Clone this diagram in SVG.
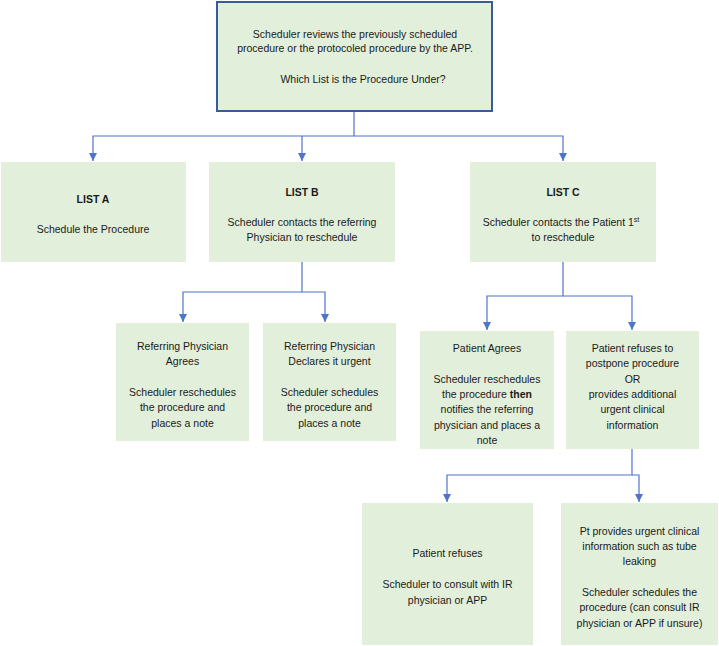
<svg xmlns="http://www.w3.org/2000/svg" width="719" height="646" viewBox="0 0 719 646">
<defs>
<style>
.box{fill:#e2efda;stroke:none}
.top{fill:#e2efda;stroke:#3a5b99;stroke-width:2}
text{font-family:"Liberation Sans",Arial,sans-serif;font-size:10.5px;fill:#1a1a1a;text-anchor:middle}
.b{font-weight:bold}
.c{fill:none;stroke:#4f75c9;stroke-width:1.2}
</style>
<marker id="ah" markerUnits="userSpaceOnUse" markerWidth="8" markerHeight="8" viewBox="0 0 8 8" refX="8" refY="4" orient="auto">
<path d="M0,0 L8,4 L0,8 Z" fill="#4f75c9"/>
</marker>
</defs>
<rect width="719" height="646" fill="#ffffff"/>
<g id="connectors">
<path class="c" d="M354,111 V136 H93 V161" marker-end="url(#ah)"/>
<path class="c" d="M302,136 V161" marker-end="url(#ah)"/>
<path class="c" d="M354,136 H563 V161" marker-end="url(#ah)"/>
<path class="c" d="M302,262 V292 H183 V322" marker-end="url(#ah)"/>
<path class="c" d="M302,292 H325 V322" marker-end="url(#ah)"/>
<path class="c" d="M563,262 V296 H487 V330" marker-end="url(#ah)"/>
<path class="c" d="M563,296 H632 V330" marker-end="url(#ah)"/>
<path class="c" d="M632,449 V475 H447 V502" marker-end="url(#ah)"/>
<path class="c" d="M632,475 H639 V502" marker-end="url(#ah)"/>
</g>
<g id="start">
<rect class="top" x="217" y="2" width="275" height="109"/>
<text x="355" y="38">Scheduler reviews the previously scheduled</text>
<text x="355" y="52">procedure or the protocoled procedure by the APP.</text>
<text x="363" y="83">Which List is the Procedure Under?</text>
</g>
<g id="listA">
<rect class="box" x="1" y="162" width="185" height="100"/>
<text class="b" x="93" y="203">LIST A</text>
<text x="93" y="233">Schedule the Procedure</text>
</g>
<g id="listB">
<rect class="box" x="209" y="162" width="186" height="100"/>
<text class="b" x="302" y="196">LIST B</text>
<text x="302" y="226">Scheduler contacts the referring</text>
<text x="302" y="241">Physician to reschedule</text>
</g>
<g id="listC">
<rect class="box" x="470" y="162" width="186" height="100"/>
<text class="b" x="563" y="196">LIST C</text>
<text x="561" y="226">Scheduler contacts the Patient 1<tspan font-size="7" dy="-4">st</tspan></text>
<text x="563" y="241">to reschedule</text>
</g>
<g id="refAgrees">
<rect class="box" x="116" y="323" width="133" height="118"/>
<text x="182.5" y="350">Referring Physician</text>
<text x="182.5" y="365">Agrees</text>
<text x="182.5" y="396">Scheduler reschedules</text>
<text x="182.5" y="411">the procedure and</text>
<text x="182.5" y="427">places a note</text>
</g>
<g id="refUrgent">
<rect class="box" x="263" y="323" width="133" height="118"/>
<text x="329.5" y="350">Referring Physician</text>
<text x="329.5" y="365">Declares it urgent</text>
<text x="329.5" y="396">Scheduler schedules</text>
<text x="329.5" y="411">the procedure and</text>
<text x="329.5" y="427">places a note</text>
</g>
<g id="patientAgrees">
<rect class="box" x="420" y="331" width="134" height="118"/>
<text x="487" y="352">Patient Agrees</text>
<text x="487" y="383">Scheduler reschedules</text>
<text x="487" y="398">the procedure <tspan class="b">then</tspan></text>
<text x="487" y="413">notifies the referring</text>
<text x="487" y="429">physician and places a</text>
<text x="487" y="444">note</text>
</g>
<g id="patientRefusesPostpone">
<rect class="box" x="566" y="331" width="133" height="118"/>
<text x="632.5" y="352">Patient refuses to</text>
<text x="632.5" y="367">postpone procedure</text>
<text x="632.5" y="383">OR</text>
<text x="632.5" y="398">provides additional</text>
<text x="632.5" y="413">urgent clinical</text>
<text x="632.5" y="429">information</text>
</g>
<g id="patientRefuses">
<rect class="box" x="362" y="503" width="171" height="142"/>
<text x="447.5" y="557">Patient refuses</text>
<text x="447.5" y="588">Scheduler to consult with IR</text>
<text x="447.5" y="604">physician or APP</text>
</g>
<g id="urgentInfo">
<rect class="box" x="561" y="503" width="157" height="142"/>
<text x="639.5" y="535">Pt provides urgent clinical</text>
<text x="639.5" y="550">information such as tube</text>
<text x="639.5" y="565">leaking</text>
<text x="639.5" y="596">Scheduler schedules the</text>
<text x="639.5" y="611">procedure (can consult IR</text>
<text x="639.5" y="627">physician or APP if unsure)</text>
</g>
</svg>
